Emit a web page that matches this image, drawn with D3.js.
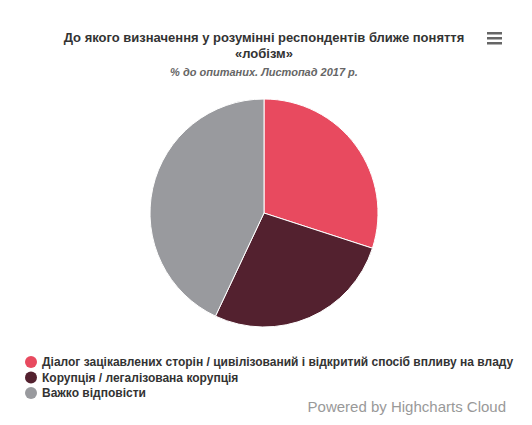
<!DOCTYPE html><html><head><meta charset="utf-8"><script src="https://cdn.jsdelivr.net/npm/d3@7"></script>
<style>body{margin:0;background:#fff}text{font-family:Arial,"Liberation Sans",sans-serif}</style></head><body>
<svg id="c" width="532" height="425"></svg>
<script>
const categories=["Діалог зацікавлених сторін / цивілізований і відкритий спосіб впливу на владу","Корупція / легалізована корупція","Важко відповісти"];
const values=[30,27,43];
const colors=["#e84a5f","#53212f","#999a9e"];
const svg=d3.select("#c");
svg.append("text").attr("x",264).attr("y",42).attr("text-anchor","middle").attr("font-size",13).attr("font-weight","bold").attr("fill","#333").text("До якого визначення у розумінні респондентів ближе поняття");
svg.append("text").attr("x",264).attr("y",58).attr("text-anchor","middle").attr("font-size",13).attr("font-weight","bold").attr("fill","#333").text("«лобізм»");
svg.append("text").attr("x",264).attr("y",76).attr("text-anchor","middle").attr("font-size",11).attr("font-weight","bold").attr("font-style","italic").attr("fill","#666").text("% до опитаних. Листопад 2017 р.");
[0,1,2].forEach(i=>svg.append("rect").attr("x",487).attr("y",32+i*5).attr("width",15).attr("height",2.5).attr("fill","#666"));
const pie=d3.pie().sort(null)(values);
const arc=d3.arc().innerRadius(0).outerRadius(114);
svg.append("g").attr("transform","translate(264,213)").selectAll("path").data(pie).join("path").attr("d",arc).attr("fill",(d,i)=>colors[i]).attr("stroke","#fff").attr("stroke-width",1);
const lg=svg.append("g");
categories.forEach((c,i)=>{const y=362+i*15.5;
lg.append("circle").attr("cx",31).attr("cy",y).attr("r",6).attr("fill",colors[i]);
lg.append("text").attr("x",42).attr("y",y+4).attr("font-size",12).attr("font-weight","bold").attr("fill","#333").text(c);});
svg.append("text").attr("x",506).attr("y",412).attr("text-anchor","end").attr("font-size",15).attr("fill","#999").text("Powered by Highcharts Cloud");
</script></body></html>
